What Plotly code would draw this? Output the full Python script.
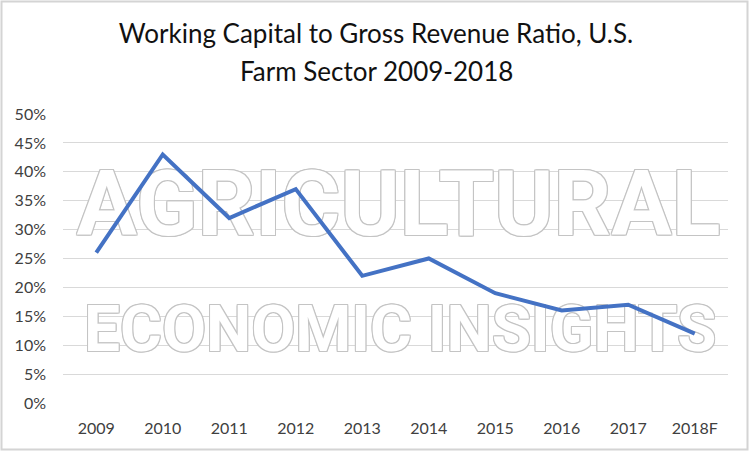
import plotly.graph_objects as go

# ---- data ----
categories = ["2009", "2010", "2011", "2012", "2013", "2014", "2015", "2016", "2017", "2018F"]
ratio = [0.26, 0.43, 0.32, 0.37, 0.22, 0.25, 0.19, 0.16, 0.17, 0.12]
y_ticks = [0.00, 0.05, 0.10, 0.15, 0.20, 0.25, 0.30, 0.35, 0.40, 0.45, 0.50]
y_tick_labels = ["0%", "5%", "10%", "15%", "20%", "25%", "30%", "35%", "40%", "45%", "50%"]
watermark_top = "AGRICULTURAL"
watermark_bottom = "ECONOMIC INSIGHTS"
title_line1 = "Working Capital to Gross Revenue Ratio, U.S."
title_line2 = "Farm Sector 2009-2018"

x_index = list(range(len(categories)))

W, H = 752, 452
ML, MR, MT, MB = 63, 24, 114, 49
PW, PH = W - ML - MR, H - MT - MB

outline = ", ".join(
    f"{dx}px {dy}px 0 #c4c4c4"
    for dx, dy in [(1, 0), (-1, 0), (0, 1), (0, -1), (1, 1), (-1, -1), (1, -1), (-1, 1)]
)
wm_family = "Roboto, sans-serif"
title_font = dict(family="Lato, Liberation Sans, sans-serif", size=26, color="#111111")

fig = go.Figure()

fig.add_trace(go.Scatter(
    x=[4.545], y=[0.330], mode="text", text=[watermark_top],
    textposition="middle center", cliponaxis=False,
    textfont=dict(family=wm_family, size=90, color="white", shadow=outline, weight="bold"),
    hoverinfo="skip", showlegend=False,
))
fig.add_trace(go.Scatter(
    x=[4.57], y=[0.118], mode="text", text=[watermark_bottom],
    textposition="middle center", cliponaxis=False,
    textfont=dict(family=wm_family, size=64, color="white", shadow=outline, weight="bold"),
    hoverinfo="skip", showlegend=False,
))

fig.add_trace(go.Scatter(
    x=x_index, y=ratio, mode="lines",
    line=dict(color="#4472C4", width=4),
    hoverinfo="skip", showlegend=False,
))

fig.update_layout(
    width=W, height=H,
    margin=dict(l=ML, r=MR, t=MT, b=MB),
    paper_bgcolor="white", plot_bgcolor="white",
    font=dict(family="Lato, Liberation Sans, sans-serif", color="#404040"),
    title=dict(
        text=title_line1,
        x=376 / W, xanchor="center", xref="container",
        y=1 - 25 / H, yanchor="top", yref="container",
        font=title_font,
    ),
    annotations=[dict(
        text=title_line2, showarrow=False,
        xref="paper", yref="paper",
        x=(376 - ML) / PW, xanchor="center",
        y=(MT + PH - 71) / PH, yanchor="middle",
        font=title_font,
    )],
    xaxis=dict(
        range=[-0.5, len(categories) - 0.5],
        tickmode="array", tickvals=x_index, ticktext=categories,
        showgrid=False, zeroline=False, showline=False, ticks="",
        tickfont=dict(size=16, color="#404040"),
        ticklabelstandoff=14,
        fixedrange=True,
    ),
    yaxis=dict(
        range=[0, 0.5],
        tickmode="array", tickvals=y_ticks, ticktext=y_tick_labels,
        showgrid=True, gridcolor="#d9d9d9", gridwidth=1.3,
        zeroline=False, showline=False, ticks="",
        tickfont=dict(size=16, color="#404040"),
        ticklabelstandoff=16,
        fixedrange=True,
    ),
    shapes=[dict(
        type="rect", xref="paper", yref="paper",
        x0=(1.5 - ML) / PW, x1=(747.5 - ML) / PW,
        y0=(MT + PH - 449.5) / PH, y1=(MT + PH - 1.5) / PH,
        line=dict(color="#d4d4d4", width=2), fillcolor="rgba(0,0,0,0)", layer="above",
    )],
)

fig.write_html(
    "out.html",
    config={"displayModeBar": False},
    post_script="document.body.style.margin='0';document.body.style.padding='0';",
)
